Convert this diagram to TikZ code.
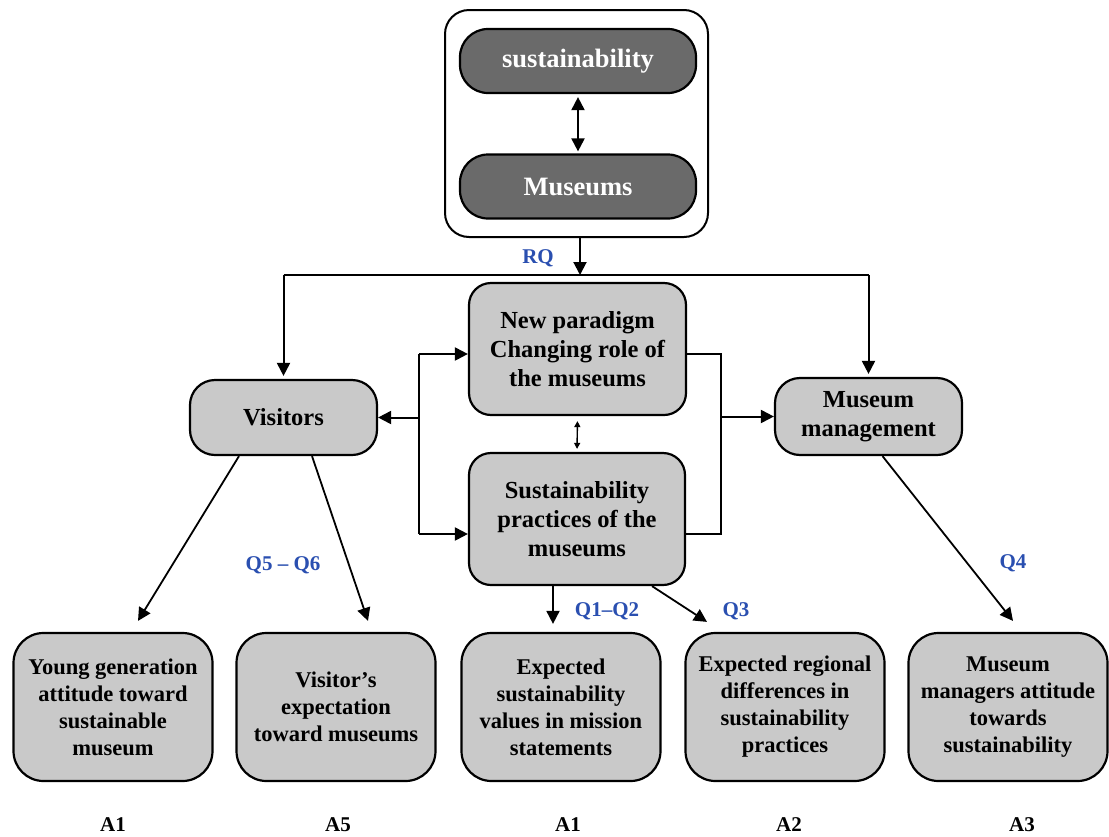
\documentclass[tikz,border=0pt]{standalone}
\usepackage{fontspec}
\setmainfont{Liberation Serif}
\usetikzlibrary{arrows.meta,calc}
\definecolor{boxgray}{HTML}{C9C9C9}
\definecolor{darkgray}{HTML}{6A6A6A}
\definecolor{qblue}{HTML}{2A4FB0}
\tikzset{
  frame/.style={draw, line width=2pt, rounded corners=24pt, minimum width=263pt, minimum height=227pt},
  darkbox/.style={draw, line width=2.2pt, fill=darkgray, text=white, rounded corners=28pt,
    minimum width=236pt, minimum height=64pt, font=\fontsize{26.5}{30}\selectfont\bfseries},
  midbox/.style={draw, line width=2.2pt, fill=boxgray, rounded corners=22pt, align=center,
    inner sep=2pt, font=\fontsize{24.5}{29}\selectfont\bfseries},
  lowbox/.style={draw, line width=2.2pt, fill=boxgray, rounded corners=30pt, align=center,
    minimum width=199pt, minimum height=148pt, inner sep=2pt,
    font=\fontsize{22.5}{27}\selectfont\bfseries},
  qlabel/.style={text=qblue, font=\fontsize{21}{24}\selectfont\bfseries, inner sep=0pt},
  alabel/.style={font=\fontsize{21}{24}\selectfont\bfseries, inner sep=0pt},
  link/.style={line width=2pt},
  arr/.style={line width=2pt, -{Triangle[length=13pt,width=13pt]}},
  dblarr/.style={line width=2pt, {Triangle[length=13pt,width=13pt]}-{Triangle[length=13pt,width=13pt]}},
  smallarr/.style={line width=1.4pt, {Triangle[length=6pt,width=6pt]}-{Triangle[length=6pt,width=6pt]}},
}
\begin{document}
\begin{tikzpicture}[x=1pt, y=-1pt]
\useasboundingbox (0,0) rectangle (1109,836);

% top frame with the two dark boxes
\node[frame] (outer) at (576.5,123.5) {};
\node[darkbox] (sus) at (578,61) {sustainability};
\node[darkbox] (mus) at (578,186.5) {Museums};
\draw[dblarr, shorten <=3pt, shorten >=2pt] (sus.south) -- (mus.north);

% middle row
\node[midbox, minimum width=217pt, minimum height=132pt] (paradigm) at (577.5,349)
  {New paradigm\\Changing role of\\the museums};
\node[midbox, minimum width=216pt, minimum height=132pt] (practice) at (577,519)
  {Sustainability\\practices of the\\museums};
\node[midbox, rounded corners=25pt, minimum width=187pt, minimum height=75pt] (visitors) at (283.5,417.5)
  {Visitors};
\node[midbox, rounded corners=25pt, minimum width=187pt, minimum height=77pt] (mgmt) at (868.5,416.5)
  {Museum\\management};

% bottom row
\node[lowbox] (b1) at (113,707) {Young generation\\attitude toward\\sustainable\\museum};
\node[lowbox] (b2) at (336,707) {Visitor’s\\expectation\\toward museums};
\node[lowbox] (b3) at (561,707) {Expected\\sustainability\\values in mission\\statements};
\node[lowbox] (b4) at (785,707) {Expected regional\\differences in\\sustainability\\practices};
\node[lowbox] (b5) at (1008,707) {Museum\\managers attitude\\towards\\sustainability};

% research question split
\coordinate (split) at (580,275);
\draw[arr] (split |- outer.south) -- (split);
\draw[link] (visitors.north |- split) -- (mgmt.north |- split);
\draw[arr, shorten >=3pt] (visitors.north |- split) -- (visitors.north);
\draw[arr, shorten >=3pt] (mgmt.north |- split) -- (mgmt.north);
\node[qlabel] (rq) at (538,258) {RQ};

% left bracket
\coordinate (lt) at (419,354);
\coordinate (lb) at (419,534);
\draw[link] (lt) -- (lb);
\draw[arr] (lt) -- (lt -| paradigm.west);
\draw[arr] (lb) -- (lb -| practice.west);
\draw[arr] (visitors.east -| lt) -- (visitors.east);

% right bracket
\coordinate (rt) at (721,354);
\coordinate (rb) at (721,534);
\draw[link] (rt -| paradigm.east) -- (rt) -- (rb) -- (rb -| practice.east);
\draw[arr] (mgmt.west -| rt) -- (mgmt.west);

% paradigm <-> practices
\draw[smallarr, shorten <=5pt, shorten >=3pt] (paradigm.south) -- (practice.north);

% arrows down to the outcome boxes
\draw[arr, line width=1.8pt] ($(visitors.south)+(-44.5,0)$) -- ($(b1.north)+(25,-11)$);
\draw[arr, line width=1.8pt] ($(visitors.south)+(28.5,0)$) -- ($(b2.north)+(32,-11)$);
\draw[arr, line width=1.8pt] ($(practice.south)+(-24,0)$) -- ($(b3.north)+(-8,-8)$);
\draw[arr, line width=1.8pt] ($(practice.south)+(75,0)$) -- ($(b4.north)+(-78,-10)$);
\draw[arr, line width=1.8pt] ($(mgmt.south)+(14,0)$) -- ($(b5.north)+(5,-11)$);

\node[qlabel] (q56) at (283,565) {Q5 – Q6};
\node[qlabel] (q12) at (607,611) {Q1–Q2};
\node[qlabel] (q3) at (736,611) {Q3};
\node[qlabel] (q4) at (1013,563) {Q4};

% answer codes
\node[alabel] (a1) at (113,825) {A1};
\node[alabel] (a5) at (338,825) {A5};
\node[alabel] (a1b) at (568,825) {A1};
\node[alabel] (a2) at (789,825) {A2};
\node[alabel] (a3) at (1022,825) {A3};
\end{tikzpicture}
\end{document}
